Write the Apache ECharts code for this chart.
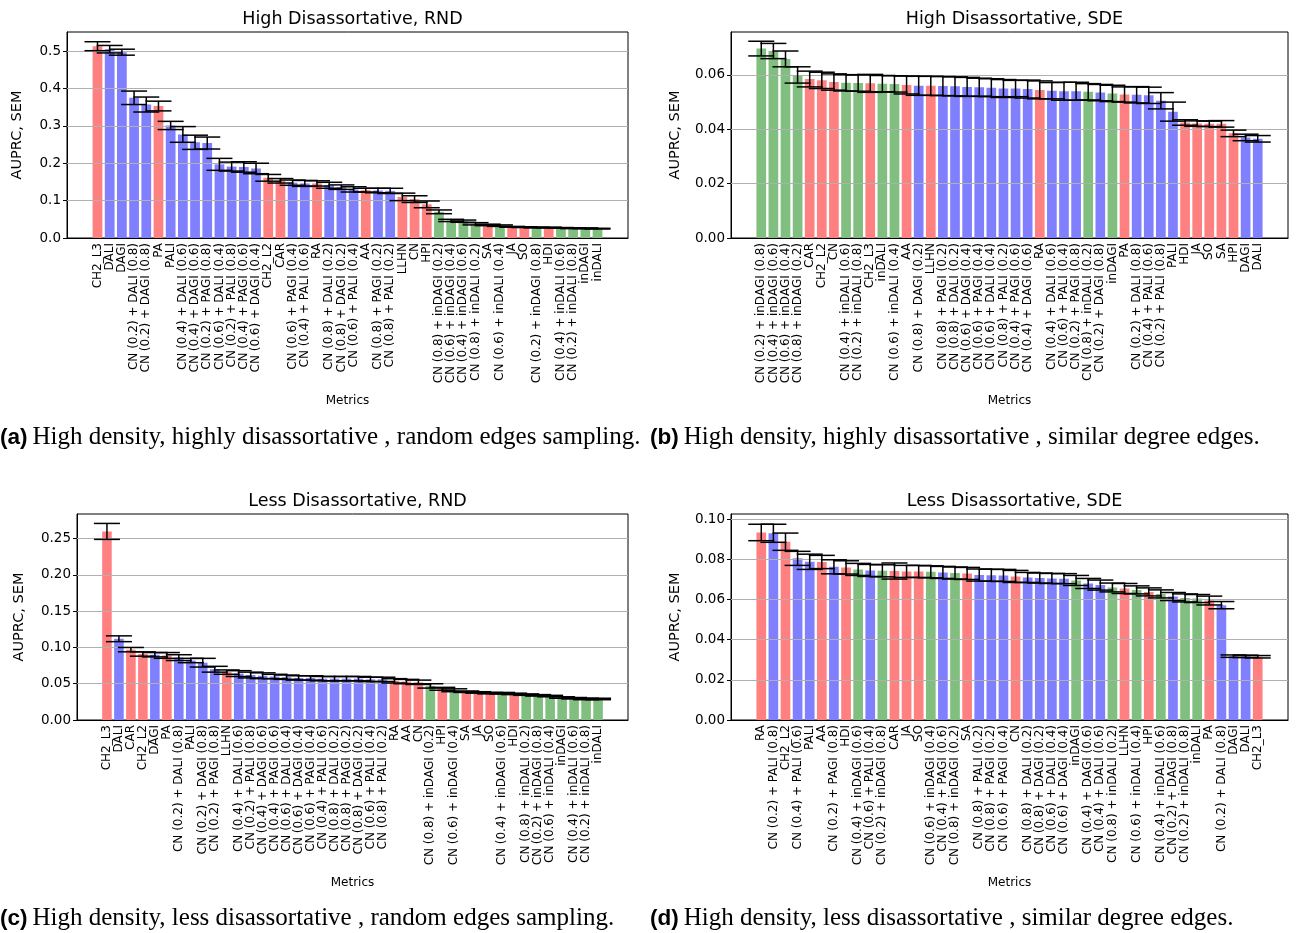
<!DOCTYPE html>
<html><head><meta charset="utf-8">
<script src="https://cdn.jsdelivr.net/npm/echarts@6/dist/echarts.min.js"></script>
<style>html,body{margin:0;padding:0;background:#fff}#c{width:1298px;height:933px}</style>
</head><body><div id="c"></div>
<script>
// ---------- DATA ----------
const catsA = ["CH2_L3","DALI","DAGI","CN (0.2) + DALI (0.8)","CN (0.2) + DAGI (0.8)","PA","PALI","CN (0.4) + DALI (0.6)","CN (0.4) + DAGI (0.6)","CN (0.2) + PAGI (0.8)","CN (0.6) + DALI (0.4)","CN (0.2) + PALI (0.8)","CN (0.4) + PAGI (0.6)","CN (0.6) + DAGI (0.4)","CH2_L2","CAR","CN (0.6) + PAGI (0.4)","CN (0.4) + PALI (0.6)","RA","CN (0.8) + DALI (0.2)","CN (0.8) + DAGI (0.2)","CN (0.6) + PALI (0.4)","AA","CN (0.8) + PAGI (0.2)","CN (0.8) + PALI (0.2)","LLHN","CN","HPI","CN (0.8) + inDAGI (0.2)","CN (0.6) + inDAGI (0.4)","CN (0.4) + inDAGI (0.6)","CN (0.8) + inDALI (0.2)","SA","CN (0.6) + inDALI (0.4)","JA","SO","CN (0.2) + inDAGI (0.8)","HDI","CN (0.4) + inDALI (0.6)","CN (0.2) + inDALI (0.8)","inDAGI","inDALI"];
const valsA = [0.513,0.505,0.497,0.375,0.357,0.353,0.301,0.277,0.256,0.254,0.197,0.191,0.190,0.186,0.161,0.153,0.148,0.146,0.146,0.141,0.136,0.130,0.128,0.127,0.126,0.110,0.104,0.090,0.070,0.047,0.045,0.038,0.035,0.033,0.030,0.029,0.028,0.028,0.027,0.026,0.026,0.025];
const semA = [0.012,0.010,0.008,0.018,0.020,0.013,0.011,0.021,0.019,0.016,0.016,0.012,0.014,0.014,0.009,0.006,0.007,0.008,0.007,0.008,0.006,0.007,0.005,0.006,0.007,0.010,0.009,0.009,0.005,0.003,0.003,0.003,0.002,0.002,0.001,0.001,0.001,0.001,0.001,0.001,0.001,0.001];

const catsB = ["CN (0.2) + inDAGI (0.8)","CN (0.4) + inDAGI (0.6)","CN (0.6) + inDAGI (0.4)","CN (0.8) + inDAGI (0.2)","CAR","CH2_L2","CN","CN (0.4) + inDALI (0.6)","CN (0.2) + inDALI (0.8)","CH2_L3","inDALI","CN (0.6) + inDALI (0.4)","AA","CN (0.8) + DAGI (0.2)","LLHN","CN (0.8) + PAGI (0.2)","CN (0.8) + DALI (0.2)","CN (0.6) + DAGI (0.4)","CN (0.6) + PAGI (0.4)","CN (0.6) + DALI (0.4)","CN (0.8) + PALI (0.2)","CN (0.4) + PAGI (0.6)","CN (0.4) + DAGI (0.6)","RA","CN (0.4) + DALI (0.6)","CN (0.6) + PALI (0.4)","CN (0.2) + PAGI (0.8)","CN (0.8) + inDALI (0.2)","CN (0.2) + DAGI (0.8)","inDAGI","PA","CN (0.2) + DALI (0.8)","CN (0.4) + PALI (0.6)","CN (0.2) + PALI (0.8)","PALI","HDI","JA","SO","SA","HPI","DAGI","DALI"];
const valsB = [0.0697,0.0688,0.0659,0.0600,0.0585,0.0580,0.0574,0.0571,0.0570,0.0569,0.0568,0.0567,0.0563,0.0560,0.0560,0.0559,0.0558,0.0556,0.0555,0.0553,0.0550,0.0550,0.0548,0.0545,0.0542,0.0540,0.0540,0.0538,0.0535,0.0532,0.0528,0.0527,0.0525,0.0505,0.0465,0.0425,0.0421,0.0420,0.0420,0.0385,0.0370,0.0365];
const semB = [0.0027,0.0028,0.0029,0.0030,0.0029,0.0030,0.0030,0.0030,0.0030,0.0033,0.0030,0.0030,0.0033,0.0035,0.0035,0.0035,0.0035,0.0035,0.0033,0.0033,0.0033,0.0030,0.0033,0.0033,0.0030,0.0033,0.0033,0.0030,0.0030,0.0030,0.0028,0.0030,0.0030,0.0030,0.0035,0.0010,0.0010,0.0010,0.0012,0.0012,0.0012,0.0012];

const catsC = ["CH2_L3","DALI","CAR","CH2_L2","DAGI","PA","CN (0.2) + DALI (0.8)","PALI","CN (0.2) + DAGI (0.8)","CN (0.2) + PAGI (0.8)","LLHN","CN (0.4) + DALI (0.6)","CN (0.2) + PALI (0.8)","CN (0.4) + DAGI (0.6)","CN (0.4) + PAGI (0.6)","CN (0.6) + DALI (0.4)","CN (0.6) + DAGI (0.4)","CN (0.6) + PAGI (0.4)","CN (0.4) + PALI (0.6)","CN (0.8) + DALI (0.2)","CN (0.8) + PAGI (0.2)","CN (0.8) + DAGI (0.2)","CN (0.6) + PALI (0.4)","CN (0.8) + PALI (0.2)","RA","AA","CN","CN (0.8) + inDAGI (0.2)","HPI","CN (0.6) + inDAGI (0.4)","SA","JA","SO","CN (0.4) + inDAGI (0.6)","HDI","CN (0.8) + inDALI (0.2)","CN (0.2) + inDAGI (0.8)","CN (0.6) + inDALI (0.4)","inDAGI","CN (0.4) + inDALI (0.6)","CN (0.2) + inDALI (0.8)","inDALI"];
const valsC = [0.260,0.112,0.097,0.091,0.090,0.089,0.086,0.082,0.079,0.070,0.066,0.064,0.062,0.061,0.060,0.059,0.058,0.058,0.057,0.057,0.057,0.057,0.056,0.056,0.054,0.053,0.052,0.047,0.043,0.041,0.039,0.038,0.037,0.037,0.036,0.035,0.034,0.033,0.031,0.030,0.029,0.029];
const semC = [0.011,0.004,0.003,0.003,0.003,0.004,0.004,0.003,0.006,0.004,0.003,0.004,0.004,0.004,0.003,0.003,0.003,0.003,0.003,0.003,0.003,0.003,0.003,0.003,0.003,0.003,0.003,0.003,0.002,0.002,0.001,0.001,0.001,0.001,0.001,0.001,0.001,0.001,0.001,0.001,0.001,0.001];

const catsD = ["RA","CN (0.2) + PALI (0.8)","CH2_L2","CN (0.4) + PALI (0.6)","PALI","AA","CN (0.2) + PAGI (0.8)","HDI","CN (0.4) + inDAGI (0.6)","CN (0.6) + PALI (0.4)","CN (0.2) + inDAGI (0.8)","CAR","JA","SO","CN (0.6) + inDAGI (0.4)","CN (0.4) + PAGI (0.6)","CN (0.8) + inDAGI (0.2)","SA","CN (0.8) + PALI (0.2)","CN (0.8) + PAGI (0.2)","CN (0.6) + PAGI (0.4)","CN","CN (0.8) + DALI (0.2)","CN (0.8) + DAGI (0.2)","CN (0.6) + DALI (0.4)","CN (0.6) + DAGI (0.4)","inDAGI","CN (0.4) + DAGI (0.6)","CN (0.4) + DALI (0.6)","CN (0.8) + inDALI (0.2)","LLHN","CN (0.6) + inDALI (0.4)","HPI","CN (0.4) + inDALI (0.6)","CN (0.2) + DAGI (0.8)","CN (0.2) + inDALI (0.8)","inDALI","PA","CN (0.2) + DALI (0.8)","DAGI","DALI","CH2_L3"];
const valsD = [0.0934,0.0930,0.0888,0.0805,0.0788,0.0787,0.0763,0.0760,0.0750,0.0745,0.0743,0.0742,0.0740,0.0740,0.0738,0.0735,0.0732,0.0730,0.0722,0.0721,0.0720,0.0715,0.0710,0.0707,0.0705,0.0704,0.0695,0.0680,0.0672,0.0660,0.0655,0.0648,0.0638,0.0628,0.0615,0.0608,0.0605,0.0595,0.0572,0.0318,0.0317,0.0315];
const semD = [0.0041,0.0045,0.0043,0.0035,0.0038,0.0033,0.0035,0.0033,0.0030,0.0030,0.0030,0.0040,0.0030,0.0030,0.0030,0.0030,0.0030,0.0030,0.0030,0.0030,0.0030,0.0030,0.0025,0.0025,0.0025,0.0025,0.0025,0.0025,0.0025,0.0022,0.0025,0.0020,0.0020,0.0020,0.0020,0.0020,0.0020,0.0022,0.0018,0.0006,0.0006,0.0006];

const yTicksA = [0, 0.1, 0.2, 0.3, 0.4, 0.5];
const yTicksB = [0, 0.02, 0.04, 0.06];
const yTicksC = [0, 0.05, 0.10, 0.15, 0.20, 0.25];
const yTicksD = [0, 0.02, 0.04, 0.06, 0.08, 0.10];

const titles = ["High Disassortative, RND", "High Disassortative, SDE", "Less Disassortative, RND", "Less Disassortative, SDE"];
const captionTags = ["(a)", "(b)", "(c)", "(d)"];
const captionTexts = [
  "High density, highly disassortative , random edges sampling.",
  "High density, highly disassortative , similar degree edges.",
  "High density, less disassortative , random edges sampling.",
  "High density, less disassortative , similar degree edges."
];
const xAxisName = "Metrics";
const yAxisName = "AUPRC, SEM";

// ---------- STYLE / LAYOUT ----------
const RED = 'rgb(255,128,128)', BLUE = 'rgb(128,128,255)', GREEN = 'rgb(128,191,128)';
function colorOf(name) {
  if (name.indexOf('inDA') >= 0) return GREEN;
  if (/DALI|DAGI|PALI|PAGI/.test(name)) return BLUE;
  return RED;
}
const PAD = 2;
const FONT = 'DejaVu Sans';

const panels = [
  {cats: catsA, vals: valsA, sem: semA, ticks: yTicksA, dec: 1, ymax: 0.551, grid: {left: 67, top: 32, width: 561, height: 206}, yGap: 42},
  {cats: catsB, vals: valsB, sem: semB, ticks: yTicksB, dec: 2, ymax: 0.0758, grid: {left: 731, top: 32, width: 557, height: 206}, yGap: 48},
  {cats: catsC, vals: valsC, sem: semC, ticks: yTicksC, dec: 2, ymax: 0.284, grid: {left: 77, top: 514, width: 551, height: 206}, yGap: 50},
  {cats: catsD, vals: valsD, sem: semD, ticks: yTicksD, dec: 2, ymax: 0.1026, grid: {left: 731, top: 514, width: 557, height: 206}, yGap: 48}
];

const option = {animation: false, backgroundColor: '#fff', grid: [], xAxis: [], yAxis: [], series: [], title: []};

panels.forEach((p, k) => {
  const n = p.cats.length;
  const padded = [];
  for (let i = 0; i < PAD; i++) padded.push('_padL' + i);
  p.cats.forEach(c => padded.push(c));
  for (let i = 0; i < PAD; i++) padded.push('_padR' + i);

  option.grid.push(Object.assign({show: true, borderColor: '#000', borderWidth: 1, backgroundColor: 'transparent', containLabel: false}, p.grid));

  option.xAxis.push({
    type: 'category', gridIndex: k, data: padded, boundaryGap: true,
    name: xAxisName, nameLocation: 'middle', nameGap: 157,
    nameTextStyle: {fontFamily: FONT, fontSize: 12, color: '#000'},
    axisLine: {lineStyle: {color: '#000', width: 1}},
    axisTick: {alignWithLabel: true, length: 4, lineStyle: {color: '#000'},
      interval: (idx) => idx >= PAD && idx < PAD + n},
    axisLabel: {rotate: 90, interval: 0, fontFamily: FONT, fontSize: 12, color: '#000', margin: 5,
      formatter: v => (v.indexOf('_pad') === 0 ? '' : v)},
    splitLine: {show: false}
  });

  option.yAxis.push({
    type: 'value', gridIndex: k, min: 0, max: p.ymax, interval: p.ticks[1] - p.ticks[0],
    name: yAxisName, nameLocation: 'middle', nameGap: p.yGap, nameRotate: 90,
    nameTextStyle: {fontFamily: FONT, fontSize: 14.5, color: '#000'},
    axisLine: {show: true, lineStyle: {color: '#000', width: 1}},
    axisTick: {show: true, length: 4, lineStyle: {color: '#000'}, customValues: p.ticks},
    axisLabel: {fontFamily: FONT, fontSize: 13.5, color: '#000', margin: 6,
      customValues: p.ticks, formatter: v => v.toFixed(p.dec)},
    splitLine: {show: false}
  });

  option.series.push({
    type: 'bar', xAxisIndex: k, yAxisIndex: k, barWidth: '80%',
    data: p.vals.map((v, i) => ({value: [i + PAD, v], itemStyle: {color: colorOf(p.cats[i])}})),
    markLine: {
      silent: true, symbol: 'none', z: 4, animation: false,
      label: {show: false},
      lineStyle: {color: '#b0b0b0', width: 1.2, type: 'solid'},
      data: p.ticks.filter(t => t > 0).map(t => ({yAxis: t}))
    }
  });

  option.series.push({
    type: 'custom', xAxisIndex: k, yAxisIndex: k, z: 6, silent: true,
    data: p.vals.map((v, i) => [i + PAD, v - p.sem[i], v + p.sem[i]]),
    encode: {x: 0, y: [1, 2]},
    renderItem: (params, api) => {
      const lo = api.coord([api.value(0), api.value(1)]);
      const hi = api.coord([api.value(0), api.value(2)]);
      const cw = 13;
      const st = {stroke: '#000', lineWidth: 1.5};
      return {type: 'group', children: [
        {type: 'line', shape: {x1: lo[0], y1: lo[1], x2: hi[0], y2: hi[1]}, style: st},
        {type: 'line', shape: {x1: lo[0] - cw, y1: lo[1], x2: lo[0] + cw, y2: lo[1]}, style: st},
        {type: 'line', shape: {x1: hi[0] - cw, y1: hi[1], x2: hi[0] + cw, y2: hi[1]}, style: st}
      ]};
    }
  });

  option.title.push({
    text: titles[k], left: p.grid.left + p.grid.width / 2, top: p.grid.top - 27, textAlign: 'center',
    textStyle: {fontFamily: FONT, fontSize: 17.5, fontWeight: 'normal', color: '#000'}
  });
});

const capPos = [{left: 0, top: 425}, {left: 650, top: 425}, {left: 0, top: 906}, {left: 650, top: 906}];
capPos.forEach((c, k) => {
  option.title.push({
    left: c.left, top: c.top, padding: 0,
    text: '{t|' + captionTags[k] + '} {s|' + captionTexts[k] + '}',
    textStyle: {fontWeight: 'normal', rich: {
      t: {fontFamily: 'Liberation Sans', fontWeight: 'bold', fontSize: 22.5, color: '#000'},
      s: {fontFamily: 'Liberation Serif', fontWeight: 'normal', fontSize: 25, color: '#000'}
    }}
  });
});

const chart = echarts.init(document.getElementById('c'), null, {renderer: 'canvas'});
chart.setOption(option);
</script>
</body></html>
